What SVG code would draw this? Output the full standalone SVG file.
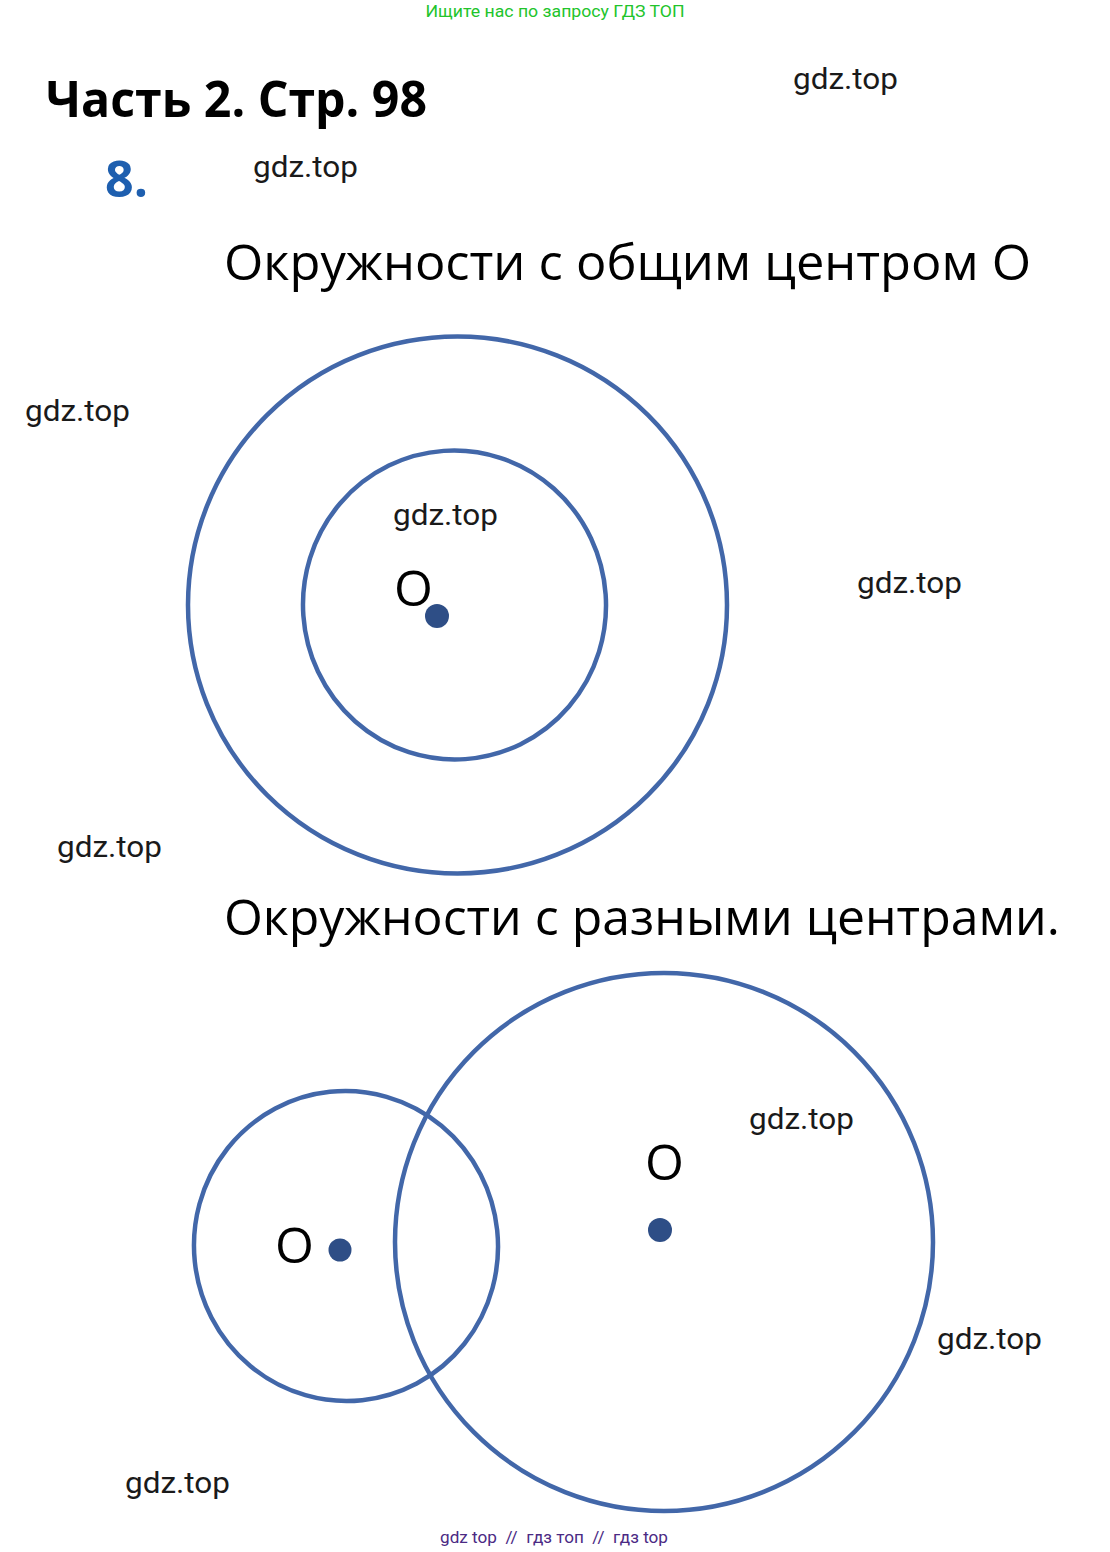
<svg xmlns="http://www.w3.org/2000/svg" width="1110" height="1552" viewBox="0 0 1110 1552">
<style>
.circ{fill:none;stroke:#4267A9;stroke-width:4.5}
.dot{fill:#2E4E86}
.wm{font-family:Roboto,"Liberation Sans",sans-serif;font-size:29px;fill:#1a1a1a}
.big{font-family:"Open Sans","Noto Sans",sans-serif;font-size:50px;fill:#000}
.o{font-family:"Open Sans","Noto Sans",sans-serif;font-size:50px;fill:#000}
</style>
<rect width="1110" height="1552" fill="#fff"/>
<text x="555" y="17" text-anchor="middle" font-family="Roboto,'Liberation Sans',sans-serif" font-size="17" fill="#22C42B" textLength="259" lengthAdjust="spacingAndGlyphs">Ищите нас по запросу ГДЗ ТОП</text>
<text x="46" y="117" font-family="'Open Sans','Noto Sans',sans-serif" font-weight="bold" font-size="50" fill="#000" textLength="381" lengthAdjust="spacingAndGlyphs">Часть 2. Стр. 98</text>
<text x="105" y="197" font-family="'Open Sans','Noto Sans',sans-serif" font-weight="bold" font-size="50" fill="#1E5FAF" textLength="43" lengthAdjust="spacingAndGlyphs">8.</text>
<text class="big" x="224" y="280" textLength="807" lengthAdjust="spacingAndGlyphs">Окружности с общим центром О</text>
<text class="big" x="224" y="935" textLength="836" lengthAdjust="spacingAndGlyphs">Окружности с разными центрами.</text>
<g id="wm">
<text class="wm" x="793" y="89" textLength="105" lengthAdjust="spacingAndGlyphs">gdz.top</text>
<text class="wm" x="253" y="177" textLength="105" lengthAdjust="spacingAndGlyphs">gdz.top</text>
<text class="wm" x="25" y="421" textLength="105" lengthAdjust="spacingAndGlyphs">gdz.top</text>
<text class="wm" x="393" y="525" textLength="105" lengthAdjust="spacingAndGlyphs">gdz.top</text>
<text class="wm" x="857" y="593" textLength="105" lengthAdjust="spacingAndGlyphs">gdz.top</text>
<text class="wm" x="57" y="857" textLength="105" lengthAdjust="spacingAndGlyphs">gdz.top</text>
<text class="wm" x="749" y="1129" textLength="105" lengthAdjust="spacingAndGlyphs">gdz.top</text>
<text class="wm" x="937" y="1349" textLength="105" lengthAdjust="spacingAndGlyphs">gdz.top</text>
<text class="wm" x="125" y="1493" textLength="105" lengthAdjust="spacingAndGlyphs">gdz.top</text>
</g>
<g id="concentric">
<ellipse id="outer" class="circ" cx="457.5" cy="605" rx="269.5" ry="268.5"/>
<ellipse id="inner" class="circ" cx="454.5" cy="605" rx="151.5" ry="154.5" transform="rotate(-4 454.5 605)"/>
<circle id="centerO" class="dot" cx="437" cy="616" r="12"/>
<text class="o" x="394" y="606">О</text>
</g>
<g id="different">
<ellipse id="small" class="circ" cx="346" cy="1246" rx="152" ry="155" transform="rotate(-6 346 1246)"/>
<ellipse id="large" class="circ" cx="664" cy="1242" rx="269" ry="269"/>
<circle id="c1" class="dot" cx="340" cy="1250" r="11.5"/>
<circle id="c2" class="dot" cx="660" cy="1230" r="12"/>
<text class="o" x="275" y="1263">О</text>
<text class="o" x="645" y="1180">О</text>
</g>
<text x="440" y="1543" font-family="Roboto,'Liberation Sans',sans-serif" font-size="17" fill="#4B2A84" xml:space="preserve" style="white-space:pre" textLength="228" lengthAdjust="spacingAndGlyphs">gdz top  //  гдз топ  //  гдз top</text>
</svg>
